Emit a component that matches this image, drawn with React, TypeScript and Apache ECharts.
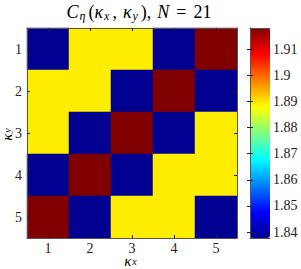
import React, { useEffect, useRef } from "react";
import * as echarts from "echarts";

const kxLabels = ["1", "2", "3", "4", "5"];
const kyLabels = ["1", "2", "3", "4", "5"];

// rows: kappa_y = 1..5, columns: kappa_x = 1..5
const row1 = [1.8377, 1.8894, 1.8894, 1.8377, 1.9182];
const row2 = [1.8894, 1.8894, 1.8377, 1.9182, 1.8377];
const row3 = [1.8894, 1.8377, 1.9182, 1.8377, 1.8894];
const row4 = [1.8377, 1.9182, 1.8377, 1.8894, 1.8894];
const row5 = [1.9182, 1.8377, 1.8894, 1.8894, 1.8377];
const rows = [row1, row2, row3, row4, row5];

const cbTicks = [1.84, 1.85, 1.86, 1.87, 1.88, 1.89, 1.9, 1.91];
const cbMin = 1.8377;
const cbMax = 1.9182;

const jet = [
  "#000090",
  "#0000FF",
  "#0080FF",
  "#00FFFF",
  "#80FF80",
  "#FFFF00",
  "#FF8000",
  "#FF0000",
  "#800000",
];

const FONT = "'Liberation Serif', 'DejaVu Serif', serif";
const AXC = "#555555";

export default function App() {
  const ref = useRef<HTMLDivElement>(null);
  useEffect(() => {
    if (!ref.current) return;
    const chart = echarts.init(ref.current, null, { renderer: "svg" });
    const data: number[][] = [];
    rows.forEach((r, yi) => r.forEach((v, xi) => data.push([xi, yi, v])));

    const mkRich = (big: number, small: number, lh: number, slh: number) => ({
      it: { fontFamily: FONT, fontStyle: "italic", fontSize: big, lineHeight: lh, color: "#222", verticalAlign: "middle" },
      rm: { fontFamily: FONT, fontSize: big, lineHeight: lh, color: "#222", verticalAlign: "middle" },
      cm: { fontFamily: FONT, fontSize: big, lineHeight: lh, color: "#222", verticalAlign: "middle", padding: [0, 6, 0, 0] },
      eq: { fontFamily: FONT, fontSize: big, lineHeight: lh, color: "#222", verticalAlign: "middle", padding: [0, 7, 0, 7] },
      sub: { fontFamily: FONT, fontStyle: "italic", fontSize: small, lineHeight: slh, color: "#222", verticalAlign: "bottom", padding: [0, 3, 0, 1] },
    });
    const titleRich = mkRich(18, 12, 20, 12);
    const axRich = mkRich(15, 10, 10, 3);

    const catTick = { show: true, inside: true, length: 3, alignWithLabel: true, interval: 0, lineStyle: { color: "#222" } };
    const line = { show: true, lineStyle: { color: AXC, width: 1 } };

    chart.setOption({
      animation: false,
      backgroundColor: "#ffffff",
      grid: [
        { left: 27, top: 28, width: 210, height: 210, outerBoundsMode: "none", containLabel: false },
        { left: 250, top: 28, width: 20, height: 210, outerBoundsMode: "none", containLabel: false },
      ],
      xAxis: [
        {
          gridIndex: 0, type: "category", data: kxLabels, position: "bottom", z: 10,
          axisLine: line, axisTick: catTick,
          axisLabel: { fontFamily: FONT, fontSize: 14, lineHeight: 10, color: "#222", margin: 5 },
          splitLine: { show: false },
        },
        {
          gridIndex: 0, type: "category", data: kxLabels, position: "top", z: 10,
          axisLine: line, axisTick: catTick, axisLabel: { show: false }, splitLine: { show: false },
        },
        { gridIndex: 1, type: "value", position: "bottom", z: 10, axisLine: line, axisTick: { show: false }, axisLabel: { show: false }, splitLine: { show: false } },
        { gridIndex: 1, type: "value", position: "top", z: 10, axisLine: line, axisTick: { show: false }, axisLabel: { show: false }, splitLine: { show: false } },
      ],
      yAxis: [
        {
          gridIndex: 0, type: "category", data: kyLabels, inverse: true, position: "left", z: 10,
          axisLine: line, axisTick: catTick,
          axisLabel: { fontFamily: FONT, fontSize: 14, color: "#222", margin: 5 },
          splitLine: { show: false },
        },
        {
          gridIndex: 0, type: "category", data: kyLabels, inverse: true, position: "right", z: 10,
          axisLine: line, axisTick: catTick, axisLabel: { show: false }, splitLine: { show: false },
        },
        {
          gridIndex: 1, type: "value", min: cbMin, max: cbMax, position: "left", z: 10,
          axisLine: line,
          axisTick: { show: true, inside: true, length: 3, customValues: cbTicks, lineStyle: { color: "#222" } },
          axisLabel: { show: false }, splitLine: { show: false },
        },
        {
          gridIndex: 1, type: "value", min: cbMin, max: cbMax, position: "right", z: 10,
          axisLine: line,
          axisTick: { show: true, inside: true, length: 3, customValues: cbTicks, lineStyle: { color: "#222" } },
          axisLabel: { show: true, customValues: cbTicks, fontFamily: FONT, fontSize: 14, color: "#222", margin: 3, formatter: (v: number) => String(Math.round(v * 100) / 100) },
          splitLine: { show: false },
        },
      ],
      visualMap: {
        type: "continuous",
        min: cbMin,
        max: cbMax,
        seriesIndex: 0,
        orient: "vertical",
        left: 250,
        top: 28,
        itemWidth: 20,
        itemHeight: 210,
        padding: 0,
        calculable: false,
        showLabel: false,
        text: ["", ""],
        inRange: { color: jet },
      },
      graphic: [
        {
          type: "text",
          x: 139,
          y: 12,
          style: {
            text: "{it|C}{sub|η}{rm|(}{it|κ}{sub|x}{cm|,}{it|κ}{sub|y}{rm|)}{cm|,}{it|N}{eq|=}{rm|21}",
            rich: titleRich,
            align: "center",
            verticalAlign: "middle",
          },
        },
        {
          type: "text",
          x: 132,
          y: 261,
          style: {
            text: "{it|κ}{sub|x}",
            rich: axRich,
            align: "center",
            verticalAlign: "middle",
          },
        },
        {
          type: "text",
          x: 7,
          y: 133,
          rotation: Math.PI / 2,
          style: {
            text: "{it|κ}{sub|y}",
            rich: axRich,
            align: "center",
            verticalAlign: "middle",
          },
        },
      ],
      series: [
        {
          type: "heatmap",
          xAxisIndex: 0,
          yAxisIndex: 0,
          data,
          itemStyle: { borderWidth: 0 },
          emphasis: { disabled: true },
          label: { show: false },
        },
      ],
    });
    return () => chart.dispose();
  }, []);
  return <div ref={ref} style={{ position: "fixed", left: 0, top: 0, width: 301, height: 269 }} />;
}
